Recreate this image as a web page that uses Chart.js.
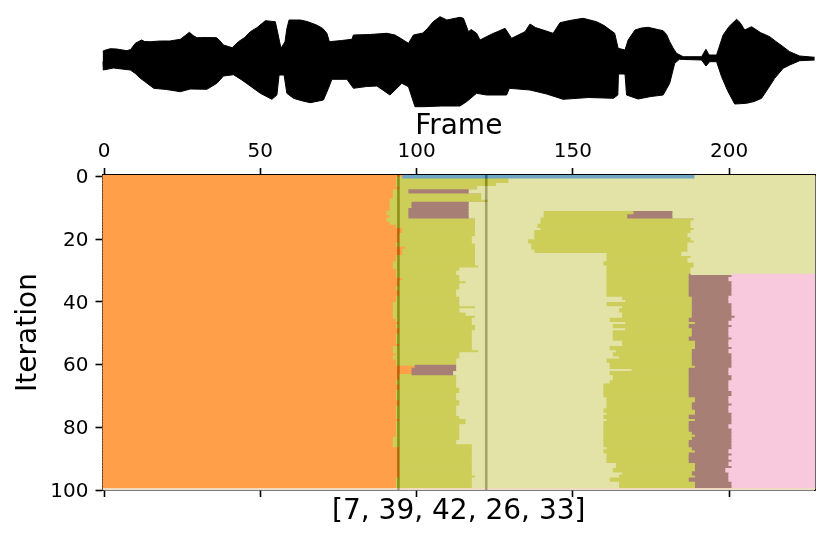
<!DOCTYPE html>
<html>
<head>
<meta charset="utf-8">
<script src="https://cdn.jsdelivr.net/npm/chart.js@4/dist/chart.umd.js"></script>
<style>
  html, body { margin: 0; padding: 0; background: #fff; }
  #wrap { position: relative; width: 830px; height: 539px; overflow: hidden; }
  canvas { position: absolute; left: 0; top: 0; }
</style>
</head>
<body>
<div id="wrap">
  <canvas id="heat" width="830" height="539"></canvas>
  <canvas id="wave" width="830" height="120"></canvas>
</div>
<script>
// waveform envelope
const waveUpFrames = [-0.5,0,2,4,7.3,8.5,10,12,13,14.8,18,21,24.4,26,27.3,28.5,29.7,33,36,37,38.2,41,43,45,46.8,49,51.6,54.8,55.5,56.6,57.9,58.5,59.2,62.8,65,68,70,71.3,72.1,76,79.3,79.8,85,90.5,93.1,95,97.4,99,102,103.5,105.3,107.5,109.7,113.9,115,116.6,117.5,119.2,120.3,122.5,124.6,126,128.3,130.4,134.7,136.3,138,140.5,143.7,145.9,149,153.3,157.6,160,163.4,164.5,166.7,167.7,169.9,172,174.1,178.9,180,181,182,183.2,185.3,191.2,192.6,193.6,196,198.1,200,202.4,203.5,205,207.2,210,213,215,217.3,219.4,222.6,227.4];
const waveUp = [6.8,8,9.8,9.5,7.8,9,15.2,18.5,17,16.8,17.5,17.5,19.2,23,26.2,23,20.8,21,20.8,18,13.5,10.8,16.8,21,26.8,31,37.8,36.8,26.8,10.2,16.8,30,38.5,38.5,37,33.5,30,25.2,16.8,18,19.2,23.5,24,25.2,23.5,20,15.2,23.5,25.5,30,36.8,41.8,38.5,41.2,40.2,26.8,29,25.2,18.5,22,25.2,27,30.2,20.2,26.8,34.5,31,28.5,25.2,35.8,38,40.2,36.8,33,25.2,10.2,8.5,18.5,28.5,30.5,31.2,27.8,24,16.8,11,5.2,1.8,1.8,9.2,3.5,3.5,23.5,32,39.2,36,28.5,31.8,26,21.8,17,11.8,6.8,2.5,1.2];
const waveLowFrames = [-0.5,-0.3,3,8.4,10,11.6,13,15.9,20,24.4,27.6,32.9,36.1,38.2,41.4,44.1,47,50,53.7,55.3,56,57.6,58.5,60.6,63,66,70.2,71.8,72.9,77.7,79.8,84,87.3,91.5,95.3,97.4,99.5,102.2,108,113.9,116,119.2,122.4,128.8,129.7,136.3,141.6,146.9,155,163,164.4,164.6,166.7,167.2,170.9,175,178.9,181,182.6,184.1,191.2,192.6,193.8,196,197.6,199.5,201.8,205.6,208,210.4,212.5,214.6,217.3,219.4,222.6,227.4];
const waveLow = [-3,-11.5,-9.5,-11.5,-15,-19.8,-23,-29.8,-31,-33.2,-30.5,-30.8,-24.8,-17.5,-16.2,-21.5,-28,-34.8,-40.8,-36.5,-16.5,-16.5,-34.8,-39.8,-42,-44.2,-41.5,-29.8,-20.8,-20.8,-29.8,-28,-27.5,-36.5,-24.8,-28.2,-48.2,-48.2,-47.5,-47.5,-43.2,-34.8,-36.5,-36.5,-29.8,-31.5,-35.5,-40.8,-39,-39.8,-36.5,-15.5,-15.5,-36.5,-40.5,-38,-36.5,-24.8,-4.8,-0.8,-1.5,-7.5,-3.2,-3.2,-18.2,-32,-45.5,-44.8,-43,-39.8,-30,-19.8,-9.8,-6.5,-2.2,-1.5];

// one value per iteration (rows 0..99), frame where each colour run ends
const orangeEnd = [96,94,94,94,95,93,93,93,92,92, 92,92,91,92,91,92,94,96,96,95, 95,95,94,97,96,96,94,94,93,93, 94,94,94,96,95,95,94,95,95,94, 94,93,93,93,93,93,94,95,94,95, 95,94,94,94,95,93,93,94,93,94, 94,100,99,99,95,95,94,95,95,94, 94,94,95,95,94,94,94,94,95,94, 94,94,94,94,93,93,93,95,95,95, 95,95,95,95,95,95,95,94,94,94];
const oliveEnd = [96,130,130,126,120,117.3,121.3,121.3,123.3,117.3, 117.3,117.3,117.3,117.3,119.3,119.3,119.3,119.3,119.3,119.3, 118.3,118.3,119.3,119.3,119.3,119.3,119.3,119.3,119.3,120.3, 114.3,113.3,114.3,114.3,116.3,114.3,114.3,113.3,113.3,114.3, 114.3,114.3,119.3,114.3,116.3,119.3,118.3,118.3,119.3,119.3, 118.3,118.3,118.3,118.3,118.3,118.3,120.3,114.3,114.3,113.3, 113.3,113.3,113.3,112.3,113.3,113.3,113.3,113.3,114.3,114.3, 113.3,113.3,114.3,114.3,113.3,113.3,113.3,114.3,116.3,116.3, 114.3,114.3,114.3,114.3,114.3,113.3,118.3,118.3,118.3,118.3, 118.3,118.3,118.3,118.3,118.3,118.3,119.3,118.3,118.3,118.3];
const brownStripStart = [null,null,null,null,null,98,null,null,null,99, 99,98,98,98,null,null,null,null,null,null, null,null,null,null,null,null,null,null,null,null, null,null,null,null,null,null,null,null,null,null, null,null,null,null,null,null,null,null,null,null, null,null,null,null,null,null,null,null,null,null, null,100,99,99,null,null,null,null,null,null, null,null,null,null,null,null,null,null,null,null, null,null,null,null,null,null,null,null,null,null, null,null,null,null,null,null,null,null,null,null];
const secondOliveStart = [null,null,null,null,null,null,null,null,null,null, null,null,141.3,141.3,140.3,140.3,139.3,140.3,138.3,138.3, 138.3,136.3,137.3,137.3,138.3,161.4,161.4,161.4,160.4,161.4, 161.4,161.4,161.4,161.4,161.4,161.4,161.4,161.4,161.4,166.4, 167.4,161.4,166.4,165.4,166.4,166.4,162.4,167.4,163.4,167.4, 163.4,163.4,163.4,166.4,166.4,162.4,164.4,163.4,165.4,161.4, 162.4,162.4,169.4,162.4,163.4,163.4,162.4,160.4,160.4,160.4, 160.4,161.4,161.4,161.4,161.4,160.4,161.4,160.4,161.4,160.4, 160.4,160.4,160.4,160.4,160.4,160.4,160.4,161.4,160.4,161.4, 161.4,161.4,164.4,164.4,163.4,166.4,165.4,162.4,165.4,165.4];
const secondOliveEnd = [null,null,null,null,null,null,null,null,null,null, null,null,170,168,189.3,188.3,188.3,189.3,188.3,187.3, 188.3,189.3,187.3,187.3,187.3,185.3,188.3,187.3,189.3,189.3, 188.3,188.3,187.7,187.7,187.7,187.7,187.7,187.7,187.7,188.7, 188.7,188.7,188.7,188.7,188.7,188.7,187.7,189.7,187.7,188.7, 188.7,188.7,187.7,189.7,189.7,189.7,188.7,188.7,188.7,188.7, 188.7,189.7,187.7,187.7,187.7,187.7,187.7,187.7,187.7,187.7, 187.7,189.7,189.7,188.7,188.7,189.7,189.7,187.7,189.7,187.7, 187.7,187.7,188.7,189.7,188.7,187.7,187.7,188.7,189.7,187.7, 187.7,187.7,189.7,189.7,189.7,188.7,189.7,187.7,189.7,189.7];
const brownEnd = [null,null,null,null,null,null,null,null,null,null, null,null,182.5,182.5,null,null,null,null,null,null, null,null,null,null,null,null,null,null,null,null, null,null,201.4,200.4,201.4,201.4,201.4,201.4,201.4,200.4, 200.4,201.4,201.4,201.4,201.4,202.4,201.4,200.4,201.4,200.4, 200.4,200.4,201.4,200.4,200.4,201.4,200.4,201.4,201.4,201.4, 201.4,201.4,200.4,200.4,201.4,201.4,200.4,200.4,200.4,201.4, 201.4,200.4,200.4,201.4,200.4,200.4,201.4,201.4,201.4,201.4, 200.4,201.4,201.4,201.4,201.4,201.4,201.4,201.4,200.4,201.4, 200.4,201.4,200.4,201.4,199.4,200.4,200.4,200.4,201.4,201.4];
const topRowBlue = [96, 189.3];
const lastRow = 100;
const markerFrames = [94.2, 122.3];

const xMin = -0.5, xMax = 227.5;
const xTickValues = [0, 50, 100, 150, 200];
const yTickValues = [0, 20, 40, 60, 80, 100];
const rows = orangeEnd.map((_, i) => i);
const rowShift = 0.3;

const ORANGE = '#ff9f4a', OLIVE = '#cdce59', BEIGE = '#e3e3a8', BROWN = '#a87f75', PINK = '#f8c8dd', BLUE = '#6ea6c4';
const FONT = 'DejaVu Sans';

// painter's order: each layer runs to the right edge, the next one paints over it
function layer(color, startOf, order, rowList = rows) {
    const data = [];
    for (const i of rowList) {
        const s = startOf(i);
        if (s !== null) data.push({x: [s - 0.5, xMax], y: i - rowShift});
    }
    return {type: 'bar', data, backgroundColor: color, order, barThickness: 3.6, grouped: false, borderWidth: 0};
}

const heatDatasets = [
    {type: 'bar', data: [{x: [xMin, xMax], y: lastRow}], backgroundColor: '#eeddc4', order: 21, barThickness: 4, grouped: false},
    layer(ORANGE, () => 0, 20),
    layer(OLIVE, i => i === 0 ? null : orangeEnd[i], 19),
    layer(BROWN, i => brownStripStart[i], 18),
    layer(BEIGE, i => oliveEnd[i], 17),
    layer(OLIVE, i => secondOliveStart[i], 16),
    layer(BROWN, i => brownEnd[i] === null ? null : secondOliveEnd[i], 15),
    layer(BEIGE, i => secondOliveEnd[i] === null ? null : (brownEnd[i] !== null ? brownEnd[i] : secondOliveEnd[i]), 14, rows.filter(i => i < 32)),
    layer(PINK, i => brownEnd[i], 13, rows.filter(i => i >= 32)),
    {type: 'bar', data: [{x: [topRowBlue[0] - 0.5, topRowBlue[1] - 0.5], y: 0}], backgroundColor: BLUE, order: 12, barThickness: 3.2, grouped: false},
];

// the marker lines sit under the see-through cells in the reference: they darken by a fixed amount
markerFrames.forEach(f => {
    heatDatasets.push({
        type: 'scatter', showLine: true, data: [{x: f, y: -0.5}, {x: f, y: 100}],
        borderColor: 'rgb(64,64,64)', borderWidth: 2.6, pointRadius: 0, order: 1, markerLine: true,
    });
});

const markerBlend = {
    id: 'markerBlend',
    beforeDatasetDraw(chart, args) {
        if (chart.data.datasets[args.index].markerLine) {
            chart.ctx.save();
            chart.ctx.globalCompositeOperation = 'difference';
        }
    },
    afterDatasetDraw(chart, args) {
        if (chart.data.datasets[args.index].markerLine) chart.ctx.restore();
    },
};

function fixedTicks(values) {
    return scale => { scale.ticks = values.map(v => ({value: v})); };
}

const tickGrid = {display: true, offset: false, drawOnChartArea: false, drawTicks: true, tickLength: 7, tickWidth: 1.6, tickColor: '#000'};
const spine = {display: true, color: '#000', width: 1.6};

new Chart(document.getElementById('heat'), {
    type: 'bar',
    data: {datasets: heatDatasets},
    plugins: [markerBlend],
    options: {
        indexAxis: 'y',
        responsive: false,
        animation: false,
        layout: {padding: {left: 12, right: 15, top: 110, bottom: 0}},
        plugins: {legend: {display: false}, tooltip: {enabled: false}},
        scales: {
            x: {
                type: 'linear', position: 'top', min: xMin, max: xMax,
                afterBuildTicks: fixedTicks(xTickValues),
                afterFit: s => { s.height = 65; },
                grid: tickGrid, border: spine,
                ticks: {color: '#000', font: {family: FONT, size: 20}, padding: 4, maxRotation: 0},
                title: {display: true, text: 'Frame', color: '#000', font: {family: FONT, size: 28, lineHeight: 1.2}, padding: 0},
            },
            x2: {
                type: 'linear', position: 'bottom', min: xMin, max: xMax,
                afterBuildTicks: fixedTicks(xTickValues),
                afterFit: s => { s.height = 49; },
                grid: tickGrid, border: spine,
                ticks: {callback: () => '', padding: 0},
                title: {display: true, text: '[7, 39, 42, 26, 33]', color: '#000', font: {family: FONT, size: 28, lineHeight: 1.2}, padding: {bottom: 10}},
            },
            y: {
                type: 'linear', position: 'left', reverse: true, min: -0.5, max: 100, offset: false,
                afterBuildTicks: fixedTicks(yTickValues),
                afterFit: s => { s.width = 90.5; },
                grid: tickGrid, border: spine,
                ticks: {color: '#000', font: {family: FONT, size: 20}, padding: 7, labelOffset: 1.5},
                title: {display: true, text: 'Iteration', color: '#000', font: {family: FONT, size: 28, lineHeight: 1.2}, padding: 0},
            },
            y2: {
                type: 'linear', position: 'right', min: 0, max: 1,
                afterFit: s => { s.width = 0; },
                grid: {display: false, drawTicks: false}, border: spine,
                ticks: {display: false},
            },
        },
    },
});

new Chart(document.getElementById('wave'), {
    type: 'scatter',
    data: {
        datasets: [
            {data: waveUpFrames.map((f, i) => ({x: f, y: waveUp[i]})), showLine: true, fill: '+1', backgroundColor: '#000', borderColor: '#000', borderWidth: 1, pointRadius: 0},
            {data: waveLowFrames.map((f, i) => ({x: f, y: waveLow[i]})), showLine: true, borderColor: '#000', borderWidth: 1, pointRadius: 0},
        ],
    },
    options: {
        responsive: false,
        animation: false,
        layout: {padding: {left: 102.5, right: 15, top: 0, bottom: 0}},
        plugins: {legend: {display: false}, tooltip: {enabled: false}},
        scales: {
            x: {type: 'linear', display: false, min: xMin, max: xMax},
            y: {type: 'linear', display: false, min: -61.5, max: 58.5},
        },
    },
});
</script>
</body>
</html>
